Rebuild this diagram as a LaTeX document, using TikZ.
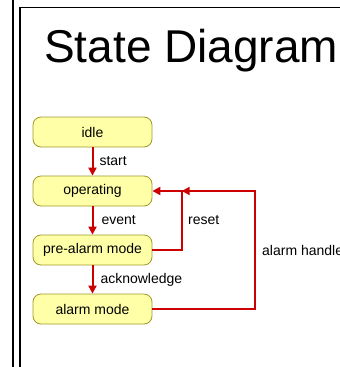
\documentclass[tikz,border=0pt]{standalone}
\usepackage{fontspec}
\setmainfont{Liberation Sans}
\usetikzlibrary{arrows.meta,positioning}
\definecolor{Flow}{HTML}{CC0000}
\definecolor{StateFill}{HTML}{FFFFA8}
\definecolor{StateLine}{HTML}{A09A28}

\begin{document}
\begin{tikzpicture}[x=1pt,y=-1pt,
    state/.style={rounded corners=8pt,draw=StateLine,fill=StateFill,line width=0.8pt,
      minimum width=119pt,minimum height=30pt,inner sep=0pt,
      font=\fontsize{14}{16}\selectfont},
    flow/.style={draw=Flow,line width=2pt,-{Triangle[length=8pt,width=8pt]}},
    tag/.style={font=\fontsize{14}{16}\selectfont,anchor=west,inner sep=0pt}
  ]
    \useasboundingbox (0,0) rectangle (340,367);
    % frame lines
    \draw[line width=2pt] (13,-1) -- (13,368);
    \draw[line width=1.3pt] (20,368) -- (20,7.3) -- (341,7.3);
    \node[anchor=base west,inner sep=0pt,font=\fontsize{46}{50}\selectfont] (title) at (44,62) {State Diagram};
    % states
    \node[state] (idle) at (92.5,132) {idle};
    \node[state] (oper) at (92.5,191) {operating};
    \node[state] (pre) at (92.5,250) {pre-alarm mode};
    \node[state] (alarm) at (92.5,309) {alarm mode};
    \coordinate (junct) at (181.7,191);
    \coordinate (turn) at (255,191);
    % transitions
    \draw[flow] (idle) -- node[tag,xshift=6pt] {start} (oper);
    \draw[flow] (oper) -- node[tag,xshift=8pt] {event} (pre);
    \draw[flow] (pre) -- node[tag,xshift=7pt] {acknowledge} (alarm);
    \draw[flow] (pre.east) -- (junct |- pre.east) -- (junct) -- (oper.east);
    \draw[flow] (alarm.east) -- (turn |- alarm.east) -- (turn) -- (junct);
    \node[tag] (resetlbl) at (188,220.5) {reset};
    \node[tag] (handledlbl) at (262,250) {alarm handled};
  \end{tikzpicture}
\end{document}
